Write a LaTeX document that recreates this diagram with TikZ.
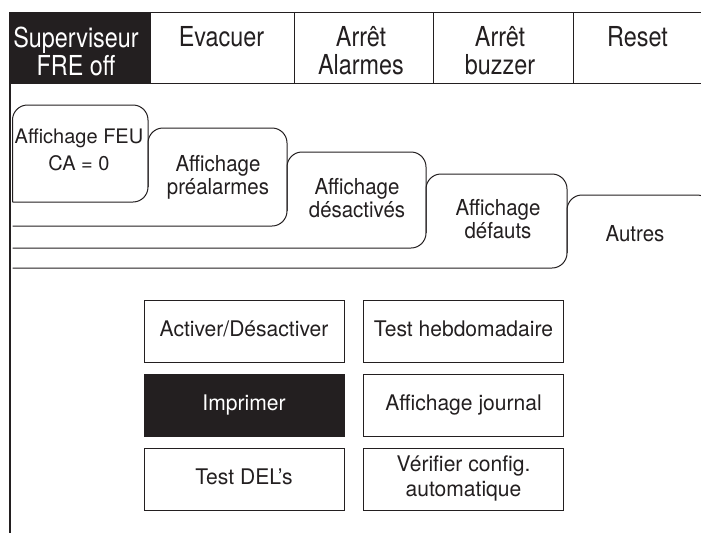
\documentclass[tikz,border=0pt]{standalone}
\usepackage{fontspec}
\setmainfont{TeX Gyre Heros}
\newfontfamily\topfont[FakeStretch=0.85]{TeX Gyre Heros}
\newfontfamily\btnfont[FakeStretch=0.98]{TeX Gyre Heros}
\newfontfamily\tabfont[FakeStretch=0.93]{TeX Gyre Heros}
\definecolor{ink}{HTML}{231F20}
\begin{document}
\begin{tikzpicture}[x=1pt,y=-1pt,
  line/.style={draw=ink, line width=1pt},
  topcell/.style={anchor=north, inner sep=0pt, align=center, font=\topfont\fontsize{27.5}{28}\selectfont, text=ink},
  tablabel/.style={inner sep=0pt, align=center, font=\tabfont\fontsize{22}{23}\selectfont, text=ink},
  button/.style={draw=ink, line width=1pt, minimum width=200pt, minimum height=62pt, inner sep=0pt, align=center, font=\btnfont\fontsize{21.5}{25}\selectfont, text=ink},
  onerow/.style={text height=16pt, text depth=6pt},
  tabline/.style={draw=ink, line width=1pt, rounded corners=15pt}]
\useasboundingbox (0,0) rectangle (701,533);
\clip (0,0) rectangle (701,533);
% top bar
\fill[ink] (10,12) rectangle (150,83);
\draw[line] (10,12) -- (712,12);
\draw[line] (10,83) -- (712,83);
\draw[line] (150,12) -- (150,83);
\draw[line] (294,12) -- (294,83);
\draw[line] (433,12) -- (433,83);
\draw[line] (573,12) -- (573,83);
\node[topcell, text=white] (sup) at (76,26.5) {Superviseur\\FRE off};
\node[topcell] (evac) at (221.5,26.5) {Evacuer};
\node[topcell] (aal) at (361,26.5) {Arrêt\\Alarmes};
\node[topcell] (abz) at (500,26.5) {Arrêt\\buzzer};
\node[topcell] (reset) at (637.5,26.5) {Reset};
% left border
\draw[ink, line width=2.2pt] (9.7,12) -- (9.7,533);
% tabs
\draw[tabline] (12.5,202) -- (148,202) -- (148,105) -- (12.5,105) -- (12.5,202);
\draw[tabline] (12.5,226) -- (287,226) -- (287,128) -- (148,128) -- (148,187);
\draw[tabline] (12.5,248) -- (426,248) -- (426,152) -- (287,152) -- (287,211);
\draw[tabline] (12.5,268) -- (567,268) -- (567,174) -- (426,174) -- (426,233);
\draw[tabline] (712,300) -- (712,195) -- (567,195) -- (567,253);
\node[tablabel, font=\fontsize{20}{26.5}\selectfont] (t1) at (79,150) {Affichage FEU\\CA = 0};
\node[tablabel] (t2) at (218,177.5) {Affichage\\préalarmes};
\node[tablabel] (t3) at (357,198) {Affichage\\désactivés};
\node[tablabel] (t4) at (498,219.5) {Affichage\\défauts};
\node[tablabel] (t5) at (635,234) {Autres};
% buttons
\node[button, onerow] (b1) at (244,331) {Activer/Désactiver};
\node[button, onerow] (b2) at (463.5,331) {Test hebdomadaire};
\node[button, onerow, fill=ink, text=white] (b3) at (244,405) {Imprimer};
\node[button, onerow] (b4) at (463.5,405) {Affichage journal};
\node[button, onerow] (b5) at (244,479) {Test DEL’s};
\node[button] (b6) at (463.5,479) {\raisebox{3pt}{\begin{tabular}{@{}c@{}}Vérifier config.\\[0pt]automatique\end{tabular}}};
\end{tikzpicture}
\end{document}
